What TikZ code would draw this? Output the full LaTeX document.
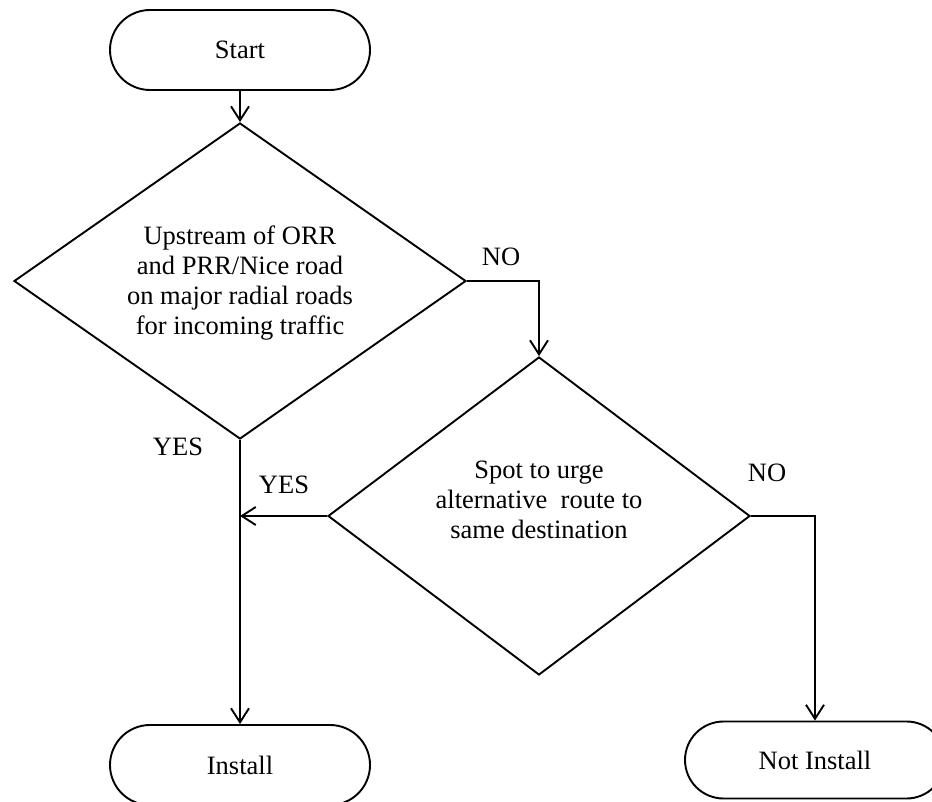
\documentclass[tikz,border=0pt]{standalone}
\usepackage{fontspec}
\setmainfont{Liberation Serif}
\usetikzlibrary{shapes.geometric,shapes.misc,arrows.meta}
\begin{document}
\begin{tikzpicture}[x=1pt,y=-1pt,
  every node/.style={font=\fontsize{26.5}{30}\selectfont, inner sep=0pt},
  term/.style={rounded rectangle, draw, line width=1.9pt, minimum width=260pt, minimum height=80pt},
  decision/.style={diamond, draw, line width=1.9pt},
  txt/.style={align=center},
  arr/.style={line width=1.9pt, -{Straight Barb[length=14pt,width=18pt,line width=1.9pt]}},
  conn/.style={line width=1.9pt}]
\useasboundingbox (0,0) rectangle (932,802);
\node[term] (start) at (240,50) {Start};
\node[decision, minimum width=452pt, minimum height=316pt] (d1) at (240,281) {};
\node[txt] (t1) at (240,283) {Upstream of ORR\\and PRR/Nice road\\on major radial roads\\for incoming traffic};
\node[decision, minimum width=422pt, minimum height=318pt] (d2) at (539,516) {};
\node[txt] (t2) at (539,500) {Spot to urge\\alternative\ \ route to\\same destination};
\node[term] (install) at (240,765) {Install};
\node[term, minimum height=77pt] (notinst) at (815,760) {Not Install};
\coordinate (j1) at (d2.west -| d1.south);
\draw[arr] (start) -- (d1);
\draw[arr] (d1.east) -| (d2.north);
\draw[arr] (d1.south) -- (install.north);
\draw[arr] (d2.west) -- (j1);
\draw[arr] (d2.east) -| (notinst.north);
\node (no1) at (501,257) {NO};
\node (no2) at (767,473) {NO};
\node (yes1) at (178,447) {YES};
\node (yes2) at (284,485) {YES};
\end{tikzpicture}
\end{document}
